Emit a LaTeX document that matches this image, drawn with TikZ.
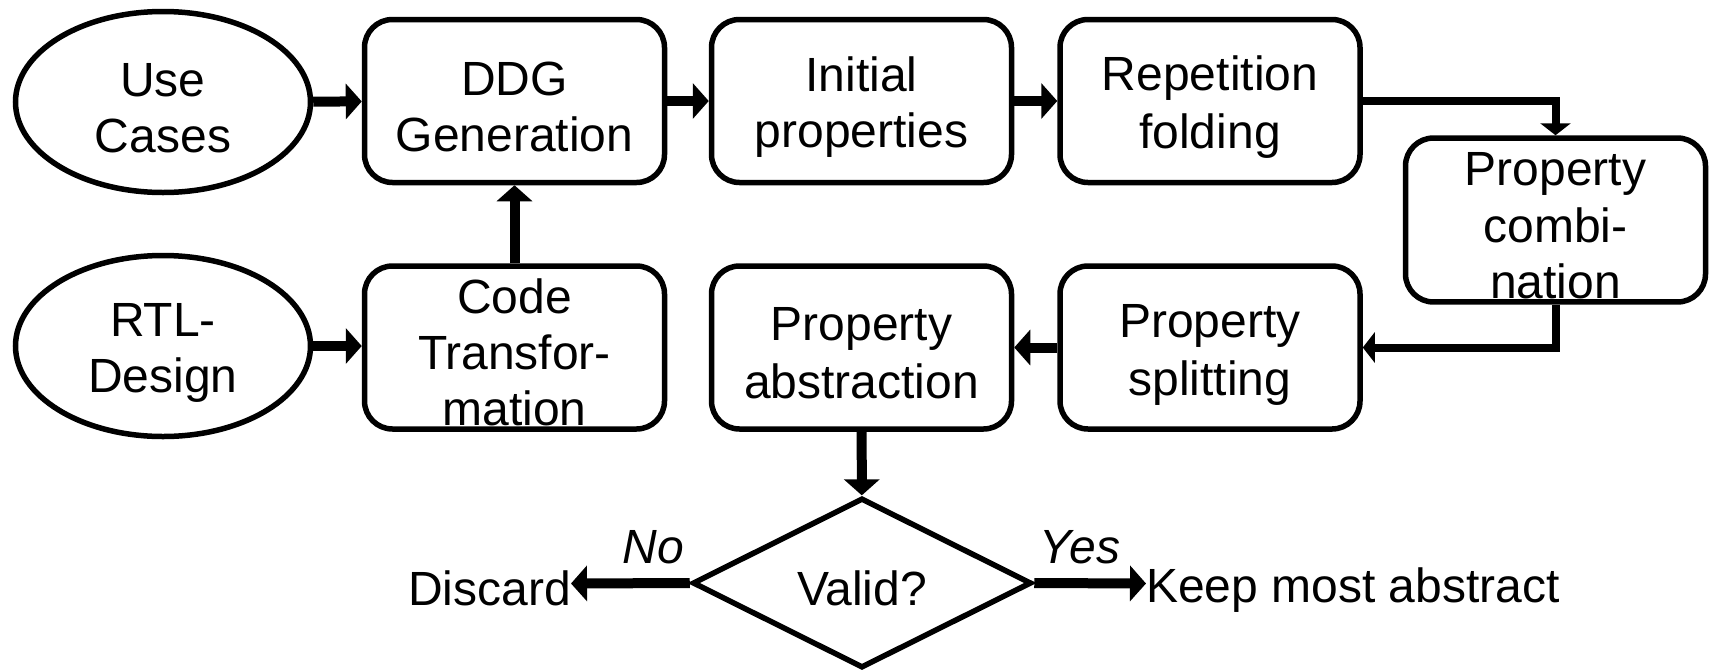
\documentclass[tikz,border=0pt]{standalone}
\usepackage{fontspec}
\setmainfont{Liberation Sans}
\usetikzlibrary{arrows.meta,shapes.geometric}
\newcommand\lsr{\rule[-3pt]{0pt}{50pt}}
\begin{document}
\begin{tikzpicture}[x=1pt,y=-1pt,
  every node/.style={font=\fontsize{48}{56}\selectfont, align=center, inner sep=0pt},
  proc/.style={draw, line width=5.5pt, rounded corners=28pt, minimum width=300pt, minimum height=163pt},
  term/.style={draw, ellipse, line width=5.5pt, minimum width=295pt, minimum height=181pt},
  dec/.style={draw, diamond, aspect=2, line width=5.5pt, minimum width=339pt, minimum height=170pt},
  flow/.style={line width=10pt, -{Triangle[width=35pt,length=16pt]}},
  thinflow/.style={line width=8pt, -{Triangle[width=30pt,length=12pt]}},
  lbl/.style={font=\fontsize{48}{56}\selectfont\itshape, anchor=base},
]
\useasboundingbox (0,0) rectangle (1716,670);

\node[term] (uc) at (163,102) {\lsr Use\\\lsr Cases};
\node[term] (rtl) at (163,346) {\lsr RTL-\\\lsr Design};
\node[proc] (ddg) at (514.5,101) {\lsr DDG\\\lsr Generation};
\node[proc] (code) at (514.5,347.5) {\lsr Code\\\lsr Transfor-\\\lsr mation};
\node[proc] (init) at (861.5,101) {\lsr Initial\\\lsr properties};
\node[proc] (rep) at (1210,101) {\lsr Repetition\\\lsr folding};
\node[proc] (comb) at (1555.5,220) {\lsr Property\\\lsr combi-\\\lsr nation};
\node[proc] (split) at (1210,347.5) {\lsr Property\\\lsr splitting};
\node[proc] (abs) at (861.5,347.5) {\lsr Property\\\lsr abstraction};
\node[dec] (valid) at (862,583) {\lsr Valid?};
\node[anchor=east] (discard) at (571,583.5) {\lsr Discard};
\node[anchor=west] (keep) at (1146,583.5) {\lsr Keep most abstract};
\node[lbl] (no) at (653.5,563) {No};
\node[lbl] (yes) at (1080,563) {Yes};

\draw[flow] (uc) -- (ddg);
\draw[flow] (rtl.east) -- (code.west |- rtl.east);
\draw[flow] (code) -- (ddg);
\draw[flow] (ddg) -- (init);
\draw[flow] (init) -- (rep);
\draw[thinflow] (rep.east) -| (comb.north);
\draw[thinflow] (comb.south) |- (split.east);
\draw[flow] (split) -- (abs);
\draw[flow] (abs) -- (valid);
\draw[flow] (valid.west) -- (discard.east);
\draw[flow] (valid.east) -- (keep.west);
\end{tikzpicture}
\end{document}
